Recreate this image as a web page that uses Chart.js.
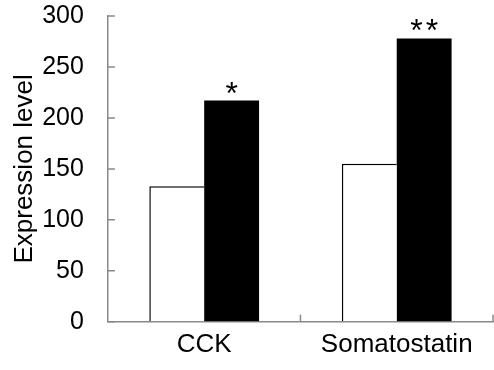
<!DOCTYPE html>
<html>
<head>
<meta charset="utf-8">
<script src="https://cdn.jsdelivr.net/npm/chart.js@4/dist/chart.umd.min.js"></script>
<style>
  html, body { margin: 0; padding: 0; background: #fff; }
  #wrap { width: 494px; height: 370px; }
</style>
</head>
<body>
<div id="wrap"><canvas id="chart"></canvas></div>
<script>
const categories = ['CCK', 'Somatostatin']
const controlValues = [133, 155]
const treatedValues = [217, 278]
const significance = ['*', '**']
const yTicks = [0, 50, 100, 150, 200, 250, 300]

const axisColor = '#898989'
const fontFamily = 'Arial, "Liberation Sans", sans-serif'

// tick marks point into the plot, so they are drawn here instead of by the grid
const innerTicks = {
  id: 'innerTicks',
  afterDraw(chart) {
    const { ctx, scales: { x, y } } = chart
    ctx.save()
    ctx.strokeStyle = axisColor
    ctx.lineWidth = 1.5
    ctx.beginPath()
    yTicks.forEach(v => {
      const py = y.getPixelForValue(v)
      ctx.moveTo(x.left, py)
      ctx.lineTo(x.left + 7, py)
    })
    const half = (x.getPixelForTick(1) - x.getPixelForTick(0)) / 2
    categories.forEach((c, i) => {
      const px = x.getPixelForTick(i) + half
      ctx.moveTo(px, y.bottom)
      ctx.lineTo(px, y.bottom - 7)
    })
    ctx.stroke()
    ctx.restore()
  }
}

const stars = {
  id: 'stars',
  afterDatasetsDraw(chart) {
    const { ctx } = chart
    const bars = chart.getDatasetMeta(1).data
    ctx.save()
    ctx.fillStyle = '#000'
    ctx.font = '32px ' + fontFamily
    ctx.letterSpacing = '3px'
    ctx.textAlign = 'center'
    ctx.textBaseline = 'alphabetic'
    bars.forEach((bar, i) => {
      ctx.fillText(significance[i], bar.x + 1.5, bar.y + 3)
    })
    ctx.restore()
  }
}

new Chart(document.getElementById('chart'), {
  type: 'bar',
  data: {
    labels: categories,
    datasets: [
      {
        label: 'Control',
        data: controlValues,
        backgroundColor: '#fff',
        borderColor: '#000',
        borderWidth: { top: 1.5, left: 1.5, right: 0, bottom: 0 },
        categoryPercentage: 0.57,
        barPercentage: 1
      },
      {
        label: 'Treated',
        data: treatedValues,
        backgroundColor: '#000',
        borderColor: '#000',
        borderWidth: 0,
        categoryPercentage: 0.57,
        barPercentage: 1
      }
    ]
  },
  options: {
    responsive: true,
    maintainAspectRatio: false,
    animation: false,
    layout: { padding: { top: 1, right: 1, bottom: 3, left: 0 } },
    plugins: {
      legend: { display: false },
      tooltip: { enabled: false }
    },
    scales: {
      x: {
        grid: { display: false, drawTicks: false },
        border: { display: true, color: axisColor, width: 1.5 },
        ticks: {
          color: '#000',
          padding: 7,
          font: { size: 26, family: fontFamily }
        }
      },
      y: {
        min: 0,
        max: 300,
        // invisible outer tick marks only used as spacing before the labels
        grid: { display: true, drawOnChartArea: false, drawTicks: true, tickLength: 23, color: 'rgba(0,0,0,0)' },
        border: { display: true, color: axisColor, width: 1.5 },
        ticks: {
          stepSize: 50,
          color: '#000',
          padding: 1,
          font: { size: 25, family: fontFamily }
        },
        title: {
          display: true,
          text: 'Expression level',
          color: '#000',
          padding: { top: 9, bottom: 1 },
          font: { size: 26, family: fontFamily }
        }
      }
    }
  },
  plugins: [innerTicks, stars]
})
</script>
</body>
</html>
